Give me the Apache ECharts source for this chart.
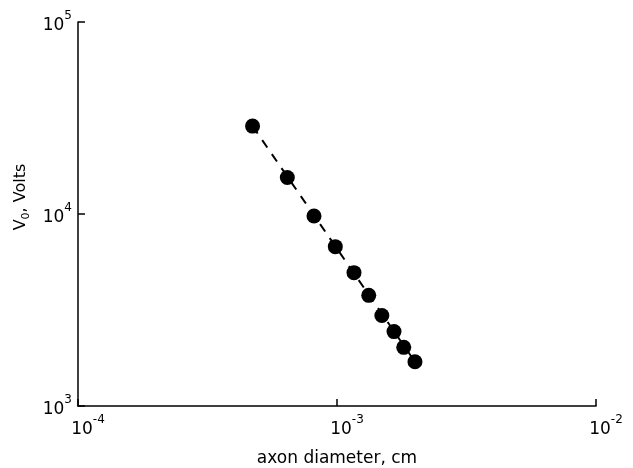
<!DOCTYPE html>
<html>
<head>
<meta charset="utf-8">
<script src="https://cdn.jsdelivr.net/npm/echarts@6/dist/echarts.min.js"></script>
<style>
  html, body { margin: 0; padding: 0; background: #fff; }
  #main { width: 633px; height: 468px; }
</style>
</head>
<body>
<div id="main"></div>
<script>
// data
var diameters = [4.72e-4, 6.43e-4, 8.15e-4, 9.85e-4, 1.163e-3, 1.326e-3, 1.49e-3, 1.66e-3, 1.81e-3, 2.0e-3];
var volts = [28700, 15500, 9770, 6760, 4950, 3770, 2960, 2440, 2020, 1700];
// dashed fit line end points
var fitX = [4.72e-4, 2.0e-3];
var fitY = [28700, 1700];

var myChart = echarts.init(document.getElementById('main'));

var font = 'DejaVu Sans';

function powLabel(v) {
    var e = Math.round(Math.log10(v));
    return '{b|10}{e|' + e + '}';
}
var powRich = {
    b: { fontSize: 17, fontFamily: font, color: '#000', lineHeight: 22, verticalAlign: 'bottom' },
    e: { fontSize: 12, fontFamily: font, color: '#000', verticalAlign: 'bottom', padding: [0, 0, 12, 0] }
};

var option = {
    backgroundColor: '#fff',
    animation: false,
    grid: {
        left: 78,
        right: 37,
        top: 22,
        bottom: 62,
        containLabel: false,
        outerBoundsMode: 'none'
    },
    xAxis: {
        type: 'log',
        logBase: 10,
        min: 1e-4,
        max: 1e-2,
        name: 'axon diameter, cm',
        nameLocation: 'middle',
        nameGap: 44,
        nameTextStyle: { fontSize: 17, fontFamily: font, color: '#000' },
        axisLine: { lineStyle: { color: '#000', width: 1.5 } },
        axisTick: { inside: true, length: 7, lineStyle: { color: '#000', width: 1.5 } },
        minorTick: { show: false },
        splitLine: { show: false },
        axisLabel: {
            formatter: powLabel,
            rich: powRich,
            margin: 8,
            padding: [0, 0, 0, 20]
        }
    },
    yAxis: {
        type: 'log',
        logBase: 10,
        min: 1e3,
        max: 1e5,
        name: 'V{s|0}, Volts',
        nameLocation: 'middle',
        nameGap: 45,
        nameTextStyle: {
            fontSize: 16, fontFamily: font, color: '#000',
            padding: [0, 0, 0, 34],
            rich: { s: { fontSize: 11, fontFamily: font, color: '#000', verticalAlign: 'bottom', lineHeight: 22 } }
        },
        axisLine: { lineStyle: { color: '#000', width: 1.5 } },
        axisTick: { inside: true, length: 7, lineStyle: { color: '#000', width: 1.5 } },
        splitLine: { show: false },
        axisLabel: {
            formatter: powLabel,
            rich: powRich,
            margin: 6
        }
    },
    series: [
        {
            name: 'fit',
            type: 'line',
            data: fitX.map(function (x, i) { return [x, fitY[i]]; }),
            symbol: 'none',
            lineStyle: { color: '#000', width: 2, type: [9, 8] },
            z: 1
        },
        {
            name: 'Vo',
            type: 'scatter',
            data: diameters.map(function (x, i) { return [x, volts[i]]; }),
            symbol: 'circle',
            symbolSize: 15,
            itemStyle: { color: '#000', opacity: 1 },
            z: 2
        }
    ]
};

myChart.setOption(option);
</script>
</body>
</html>
